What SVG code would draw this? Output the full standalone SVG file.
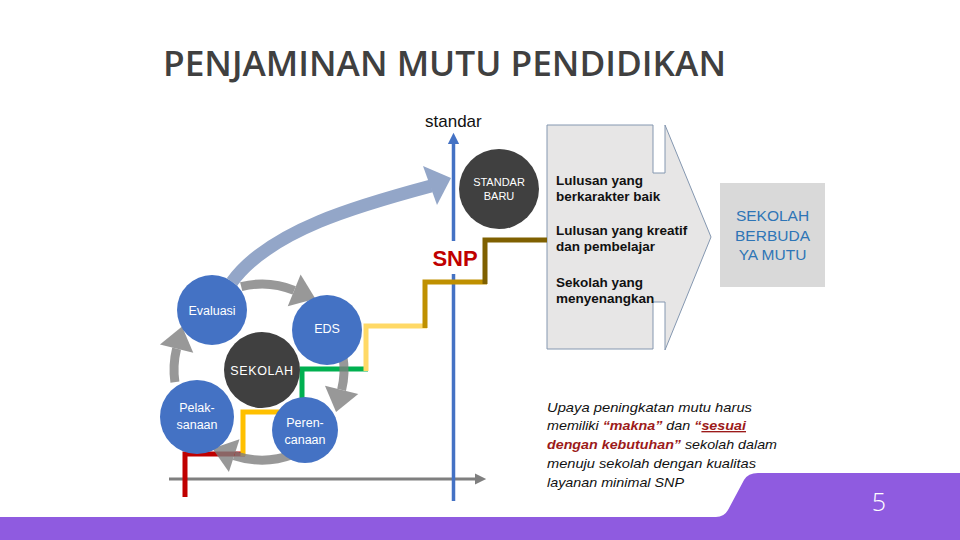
<svg xmlns="http://www.w3.org/2000/svg" width="960" height="540" viewBox="0 0 960 540">
<defs>
<style>
.t{font-family:"Liberation Sans",Arial,sans-serif}
.cl{font-family:"Liberation Sans",Arial,sans-serif;fill:#fff;text-anchor:middle;font-size:12.5px}
.blue{fill:#4472C4}
.dark{fill:#404040}
.step{fill:none;stroke-width:5;stroke-linejoin:miter;stroke-linecap:butt}
.cyc{fill:none;stroke:#7f7f7f;stroke-width:9;marker-end:url(#gh)}
.box{font-family:"Liberation Sans",Arial,sans-serif;font-weight:bold;font-size:13.5px;fill:#111}
.it{font-family:"Liberation Sans",Arial,sans-serif;font-style:italic;font-size:13.5px;fill:#111}
.red{fill:#9C1A1A;font-weight:bold}
</style>
<marker id="gh" markerUnits="userSpaceOnUse" markerWidth="40" markerHeight="40" refX="0" refY="0" viewBox="-2 -14 22 28" orient="auto">
<path d="M0,-12 L16,0 L0,12 Z" fill="#7f7f7f"/>
</marker>
<marker id="ah" markerUnits="userSpaceOnUse" markerWidth="14" markerHeight="14" viewBox="0 -5 10 10" refX="0" refY="0" orient="auto">
<path d="M0,-4 L8,0 L0,4 Z" fill="#4472C4"/>
</marker>
<marker id="ag" markerUnits="userSpaceOnUse" markerWidth="14" markerHeight="14" viewBox="0 -5 10 10" refX="0" refY="0" orient="auto">
<path d="M0,-4 L8,0 L0,4 Z" fill="#7f7f7f"/>
</marker>
</defs>
<rect width="960" height="540" fill="#fff"/>

<text x="163" y="76" font-family="'Open Sans','Liberation Sans',sans-serif" font-size="34" font-weight="600" fill="#404040" textLength="563" lengthAdjust="spacingAndGlyphs">PENJAMINAN MUTU PENDIDIKAN</text>

<text class="t" x="425" y="127" font-size="17" fill="#111">standar</text>

<g id="hasil">
<path d="M547 125 H653 V173 H665 V125 L711 237 L665 350 V302 H653 V349 H547 Z" fill="#E7E6E6" stroke="#8497B0" stroke-width="1"/>
<text class="box" x="556" y="185">Lulusan yang</text>
<text class="box" x="556" y="201">berkarakter baik</text>
<text class="box" x="556" y="235">Lulusan yang kreatif</text>
<text class="box" x="556" y="251">dan pembelajar</text>
<text class="box" x="556" y="287">Sekolah yang</text>
<text class="box" x="556" y="303">menyenangkan</text>
</g>

<g id="sekolah-mutu">
<rect x="720" y="183" width="105" height="104" fill="#D9D9D9"/>
<g class="t" font-size="15.5" fill="#2E75B6" text-anchor="middle">
<text x="772.5" y="221">SEKOLAH</text>
<text x="772.5" y="240.5">BERBUDA</text>
<text x="772.5" y="260">YA MUTU</text>
</g>
</g>

<g id="connectors">
<line x1="169" y1="479" x2="475" y2="479" stroke="#7f7f7f" stroke-width="3" marker-end="url(#ag)"/>
<line x1="453.5" y1="501" x2="453.5" y2="274" stroke="#4472C4" stroke-width="3.5"/>
<line x1="453.5" y1="241" x2="453.5" y2="144" stroke="#4472C4" stroke-width="3.5" marker-end="url(#ah)"/>
<polyline class="step" stroke="#C00000" points="185,497 185,454 245,454"/>
<polyline class="step" stroke="#FFC000" points="243,456 243,412 304,412"/>
<polyline class="step" stroke="#00B050" points="302,414 302,369 368,369"/>
<polyline class="step" stroke="#FFD966" points="366,371 366,326 427,326"/>
<polyline class="step" stroke="#BF9000" points="425,328 425,282 487,282"/>
<polyline class="step" stroke="#7F6000" points="485,284 485,240 547,240"/>
<g opacity="0.8">
<path class="cyc" d="M241.2 286.6 A86 86 0 0 1 294.2 290.3"/>
</g>
<g opacity="0.8">
<path class="cyc" d="M342.8 355.8 A82 82 0 0 1 341.6 389.8"/>
</g>
<g opacity="0.8">
<path class="cyc" d="M292.8 454.6 A90 90 0 0 1 234.2 455.6"/>
</g>
<g opacity="0.8">
<path class="cyc" d="M174.9 382.2 A88 88 0 0 1 176.6 348.7"/>
</g>
</g>

<g id="standar-baru">
<circle class="dark" cx="499" cy="189" r="40"/>
<text class="t" x="499" y="186" font-size="11" fill="#fff" text-anchor="middle">STANDAR</text>
<text class="t" x="499" y="200" font-size="11" fill="#fff" text-anchor="middle">BARU</text>
</g>

<g id="snp">
<text class="t" x="455" y="265.5" font-size="22" font-weight="bold" fill="#C00000" text-anchor="middle">SNP</text>
</g>

<g id="evaluasi">
<circle class="blue" cx="212" cy="310" r="35"/>
<text class="cl" x="212" y="315">Evaluasi</text>
</g>
<g id="eds">
<circle class="blue" cx="327" cy="330" r="35"/>
<text class="cl" x="327" y="333">EDS</text>
</g>
<g id="sekolah">
<circle class="dark" cx="262" cy="370" r="38"/>
<text class="cl" x="262" y="375" font-size="11" letter-spacing="0.6">SEKOLAH</text>
</g>
<g id="pelaksanaan">
<circle class="blue" cx="197" cy="417" r="37"/>
<text class="cl" x="197" y="412">Pelak-</text>
<text class="cl" x="197" y="429">sanaan</text>
</g>
<g id="perencanaan">
<circle class="blue" cx="305" cy="430" r="33"/>
<text class="cl" x="305" y="427">Peren-</text>
<text class="cl" x="305" y="444">canaan</text>
</g>

<g id="big-arrow">
<path d="M232 282 C270 230 360 205 431 186" fill="none" stroke="#93A6C8" stroke-width="13"/>
<polygon points="451,178 423,166 437,205" fill="#93A6C8"/>
</g>

<g id="keterangan">
<text class="it" x="547" y="412" textLength="205" lengthAdjust="spacingAndGlyphs">Upaya peningkatan mutu harus</text>
<text class="it" x="547" y="430" textLength="199" lengthAdjust="spacingAndGlyphs">memiliki <tspan class="red">“makna”</tspan> dan <tspan class="red">“</tspan><tspan class="red" text-decoration="underline">sesuai</tspan></text>
<text class="it" x="547" y="449" textLength="230" lengthAdjust="spacingAndGlyphs"><tspan class="red">dengan kebutuhan”</tspan> sekolah dalam</text>
<text class="it" x="547" y="468" textLength="209" lengthAdjust="spacingAndGlyphs">menuju sekolah dengan kualitas</text>
<text class="it" x="547" y="487" textLength="137" lengthAdjust="spacingAndGlyphs">layanan minimal SNP</text>
</g>

<g id="footer">
<path d="M0 517 H716 Q724 517 728 510 L744 480 Q748 473 758 473 H960 V540 H0 Z" fill="#8F5BE0"/>
<text x="879" y="511" font-family="'Open Sans','Liberation Sans',sans-serif" font-weight="300" font-size="25" fill="#fff" text-anchor="middle">5</text>
</g>
</svg>
